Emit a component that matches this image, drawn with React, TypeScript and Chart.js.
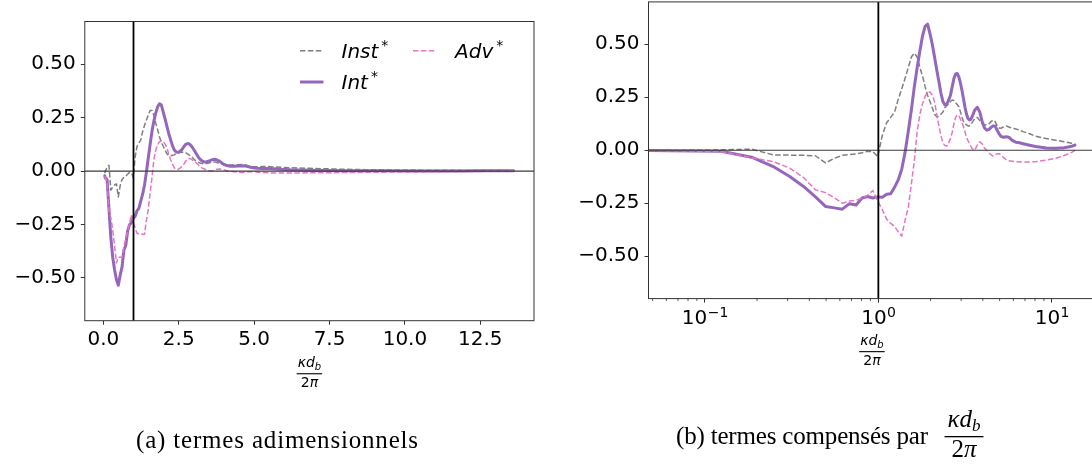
import { useEffect, useRef } from 'react';
import { Chart, registerables } from 'chart.js';

Chart.register(...registerables);

// ---------- data ----------
const X_VALUES = [
  0.048, 0.062, 0.124, 0.186, 0.248, 0.31, 0.372, 0.434, 0.496, 0.558, 0.62,
  0.682, 0.744, 0.806, 0.868, 0.93, 0.992, 1.054, 1.116, 1.178, 1.24,
  1.302, 1.364, 1.426, 1.488, 1.55, 1.612, 1.674, 1.736, 1.798, 1.86,
  1.922, 1.984, 2.046, 2.108, 2.17, 2.232, 2.294, 2.356, 2.418, 2.48,
  2.542, 2.604, 2.666, 2.728, 2.79, 2.852, 2.914, 2.976, 3.038, 3.1,
  3.162, 3.224, 3.286, 3.348, 3.41, 3.472, 3.596, 3.72, 3.844, 3.968,
  4.092, 4.216, 4.34, 4.464, 4.588, 4.712, 4.836, 4.96, 5.084, 5.27,
  5.456, 5.642, 5.89, 6.2, 6.51, 6.82, 7.44, 8.06, 8.68, 9.3,
  10.54, 11.78, 12.4, 13.02, 13.6,
];

// (a) dimensionless terms
const INST_VALUES = [
  -0.01, 0.0, 0.016, 0.027, -0.089, -0.074, -0.065, -0.06, -0.121, -0.068, -0.039,
  -0.029, -0.023, -0.015, -0.006, -0.007, -0.03, 0.066, 0.116, 0.132, 0.145,
  0.184, 0.213, 0.238, 0.262, 0.284, 0.284, 0.263, 0.225, 0.195, 0.161,
  0.135, 0.116, 0.098, 0.081, 0.073, 0.072, 0.074, 0.076, 0.083, 0.085,
  0.087, 0.088, 0.089, 0.086, 0.081, 0.075, 0.07, 0.06, 0.051, 0.044,
  0.04, 0.037, 0.035, 0.034, 0.035, 0.037, 0.042, 0.042, 0.036, 0.032,
  0.029, 0.028, 0.029, 0.03, 0.031, 0.029, 0.024, 0.021, 0.02, 0.021,
  0.021, 0.0195, 0.018, 0.016, 0.0146, 0.0129, 0.0105, 0.0082, 0.0069, 0.0059,
  0.0045, 0.0034, 0.003, 0.0025, 0.0021,
];
const INT_VALUES = [
  -0.022, -0.032, -0.04, -0.177, -0.31, -0.403, -0.462, -0.507, -0.534, -0.487, -0.448,
  -0.37, -0.347, -0.279, -0.251, -0.242, -0.222, -0.211, -0.186, -0.174, -0.141,
  -0.108, -0.066, -0.007, 0.06, 0.123, 0.186, 0.233, 0.271, 0.3, 0.315,
  0.31, 0.277, 0.244, 0.209, 0.175, 0.146, 0.118, 0.098, 0.089, 0.088,
  0.093, 0.1, 0.113, 0.125, 0.129, 0.127, 0.118, 0.106, 0.092, 0.077,
  0.063, 0.053, 0.046, 0.043, 0.043, 0.046, 0.053, 0.055, 0.047, 0.034,
  0.026, 0.0225, 0.0226, 0.024, 0.025, 0.024, 0.0196, 0.0157, 0.013, 0.0116,
  0.0117, 0.011, 0.0081, 0.0061, 0.0054, 0.0045, 0.0032, 0.0022, 0.0016, 0.0012,
  0.0009, 0.001, 0.0012, 0.0015, 0.0018,
];
const ADV_VALUES = [
  -0.022, -0.032, -0.048, -0.188, -0.218, -0.274, -0.35, -0.43, -0.403, -0.403, -0.403,
  -0.352, -0.317, -0.279, -0.244, -0.204, -0.242, -0.266, -0.291, -0.293, -0.29,
  -0.296, -0.297, -0.231, -0.181, -0.103, -0.031, 0.054, 0.098, 0.122, 0.137,
  0.142, 0.139, 0.127, 0.109, 0.078, 0.052, 0.031, 0.015, 0.009, 0.008,
  0.014, 0.021, 0.032, 0.046, 0.056, 0.059, 0.056, 0.049, 0.043, 0.036,
  0.027, 0.019, 0.014, 0.01, 0.006, 0.002, 0.0, 0.007, 0.01, 0.008,
  0.002, 0.0, -0.003, -0.005, -0.006, -0.005, -0.003, -0.003, -0.004, -0.007,
  -0.008, -0.009, -0.009, -0.009, -0.0084, -0.0081, -0.0074, -0.0067, -0.0058, -0.0049,
  -0.0036, -0.0021, -0.0015, -0.0008, 0.0,
];

// (b) terms compensated by kappa*d_b/(2*pi)
const INST_COMP = [
  0.0, 0.0, 0.002, 0.005, -0.022, -0.023, -0.024, -0.026, -0.06, -0.038, -0.024,
  -0.02, -0.017, -0.012, -0.005, -0.006, -0.03, 0.07, 0.13, 0.155, 0.18,
  0.24, 0.29, 0.34, 0.39, 0.44, 0.458, 0.44, 0.39, 0.35, 0.3,
  0.26, 0.23, 0.2, 0.17, 0.158, 0.16, 0.17, 0.18, 0.2, 0.21,
  0.22, 0.23, 0.237, 0.235, 0.225, 0.215, 0.205, 0.18, 0.155, 0.135,
  0.125, 0.12, 0.115, 0.115, 0.12, 0.13, 0.15, 0.155, 0.14, 0.125,
  0.12, 0.119, 0.125, 0.135, 0.143, 0.135, 0.115, 0.105, 0.104, 0.11,
  0.115, 0.11, 0.105, 0.1, 0.095, 0.088, 0.078, 0.066, 0.06, 0.055,
  0.047, 0.04, 0.037, 0.033, 0.028,
];
const INT_COMP = [
  -0.001, -0.002, -0.005, -0.033, -0.077, -0.125, -0.172, -0.22, -0.265, -0.272, -0.278,
  -0.252, -0.258, -0.225, -0.218, -0.225, -0.22, -0.222, -0.208, -0.205, -0.175,
  -0.14, -0.09, -0.01, 0.09, 0.19, 0.3, 0.39, 0.47, 0.54, 0.585,
  0.595, 0.55, 0.5, 0.44, 0.38, 0.325, 0.27, 0.23, 0.214, 0.218,
  0.236, 0.26, 0.3, 0.34, 0.36, 0.362, 0.345, 0.315, 0.28, 0.24,
  0.2, 0.17, 0.15, 0.143, 0.146, 0.158, 0.19, 0.203, 0.18, 0.135,
  0.105, 0.095, 0.098, 0.108, 0.115, 0.113, 0.095, 0.078, 0.066, 0.061,
  0.064, 0.062, 0.048, 0.038, 0.035, 0.031, 0.024, 0.018, 0.014, 0.011,
  0.009, 0.012, 0.015, 0.019, 0.024,
];
const ADV_COMP = [
  -0.001, -0.002, -0.006, -0.035, -0.054, -0.085, -0.13, -0.187, -0.2, -0.225, -0.25,
  -0.24, -0.236, -0.225, -0.212, -0.19, -0.24, -0.28, -0.325, -0.345, -0.36,
  -0.385, -0.405, -0.33, -0.27, -0.16, -0.05, 0.09, 0.17, 0.22, 0.255,
  0.272, 0.275, 0.26, 0.23, 0.17, 0.115, 0.07, 0.035, 0.022, 0.02,
  0.035, 0.055, 0.085, 0.125, 0.155, 0.167, 0.163, 0.145, 0.13, 0.11,
  0.085, 0.06, 0.045, 0.033, 0.02, 0.008, 0.0, 0.025, 0.04, 0.03,
  0.01, 0.0, -0.012, -0.022, -0.027, -0.022, -0.016, -0.016, -0.022, -0.035,
  -0.045, -0.05, -0.052, -0.054, -0.055, -0.055, -0.055, -0.054, -0.05, -0.046,
  -0.038, -0.025, -0.018, -0.01, 0.0,
];

const SERIES_NAMES = ['Inst', 'Int', 'Adv'];
const LIN_X_TICKS = [0, 2.5, 5, 7.5, 10, 12.5];
const LOG_X_TICKS = [0.1, 1, 10];
const LOG_MINOR_TICKS = [
  0.05, 0.06, 0.07, 0.08, 0.09, 0.2, 0.3, 0.4, 0.5, 0.6, 0.7, 0.8, 0.9,
  2, 3, 4, 5, 6, 7, 8, 9,
];
const Y_TICKS = [-0.5, -0.25, 0, 0.25, 0.5];
const REF_X = 1;
const REF_Y = 0;
const CAPTION_A = '(a) termes adimensionnels';
const CAPTION_B = '(b) termes compensés par';

// ---------- style ----------
const FONT = '"DejaVu Sans", sans-serif';
const SERIF = '"Liberation Serif", "DejaVu Serif", serif';
const GREY = '#7f7f7f';
const PURPLE = '#9467bd';
const PINK = '#e377c2';
const SPINE = '#333333';
const DASH = [5.5, 2.4];

Chart.defaults.font.family = FONT;

const fmtY = (v: number) => {
  const s = Math.abs(v).toFixed(2);
  return v < -1e-9 ? '\u2212' + s : s;
};

function makeDatasets(ins: number[], itn: number[], adv: number[]) {
  const pts = (ys: number[]) => X_VALUES.map((x, i) => ({ x, y: ys[i] }));
  return [
    {
      label: SERIES_NAMES[0], data: pts(ins), borderColor: GREY, borderWidth: 1.5,
      borderDash: DASH, borderCapStyle: 'butt', borderJoinStyle: 'round', order: 3,
    },
    {
      label: SERIES_NAMES[1], data: pts(itn), borderColor: PURPLE, borderWidth: 3,
      borderCapStyle: 'round', borderJoinStyle: 'round', order: 2,
    },
    {
      label: SERIES_NAMES[2], data: pts(adv), borderColor: PINK, borderWidth: 1.5,
      borderDash: DASH, borderCapStyle: 'butt', borderJoinStyle: 'round', order: 1,
    },
  ];
}

function drawFitted(ctx: CanvasRenderingContext2D, text: string, x: number, y: number, font: string, target: number) {
  ctx.font = font;
  (ctx as any).letterSpacing = '0px';
  const w = ctx.measureText(text).width;
  const sp = (target - w) / Math.max(1, text.length - 1);
  (ctx as any).letterSpacing = sp.toFixed(2) + 'px';
  ctx.fillText(text, x, y);
  (ctx as any).letterSpacing = '0px';
}

function drawFraction(ctx: CanvasRenderingContext2D, cx: number, bottom: number) {
  const f = 14;
  const it = `italic ${f}px ${FONT}`;
  const sub = `italic ${Math.round(f * 0.7)}px ${FONT}`;
  const up = `${f}px ${FONT}`;
  ctx.save();
  ctx.fillStyle = '#000';
  ctx.textBaseline = 'alphabetic';
  ctx.textAlign = 'left';
  ctx.font = it; const w1 = ctx.measureText('κd').width;
  ctx.font = sub; const w2 = ctx.measureText('b').width;
  const nw = w1 + w2;
  let x = cx - nw / 2;
  const nb = bottom + 46;
  ctx.font = it; ctx.fillText('κd', x, nb);
  ctx.font = sub; ctx.fillText('b', x + w1, nb + 3);
  ctx.fillRect(cx - nw / 2 - 1, bottom + 52.5, nw + 2, 1.1);
  ctx.font = up; const w3 = ctx.measureText('2').width;
  ctx.font = it; const w4 = ctx.measureText('π').width;
  x = cx - (w3 + w4) / 2;
  const db = bottom + 66;
  ctx.font = up; ctx.fillText('2', x, db);
  ctx.font = it; ctx.fillText('π', x + w3, db);
  ctx.restore();
}

function refLinesPlugin(id: string) {
  return {
    id,
    afterDatasetsDraw(chart: any) {
      const { ctx, chartArea: a, scales } = chart;
      ctx.save();
      const y0 = scales.y.getPixelForValue(REF_Y);
      ctx.strokeStyle = '#3a3a3a';
      ctx.lineWidth = 1.1;
      ctx.beginPath(); ctx.moveTo(a.left, y0); ctx.lineTo(a.right, y0); ctx.stroke();
      const x1 = scales.x.getPixelForValue(REF_X);
      ctx.strokeStyle = '#000';
      ctx.lineWidth = 1.8;
      ctx.beginPath(); ctx.moveTo(x1, a.top); ctx.lineTo(x1, a.bottom); ctx.stroke();
      ctx.strokeStyle = SPINE;
      ctx.lineWidth = 1;
      ctx.strokeRect(a.left, a.top, a.right - a.left, a.bottom - a.top);
      ctx.restore();
    },
  };
}

const leftDecor = {
  id: 'leftDecor',
  afterDraw(chart: any) {
    const { ctx, chartArea: a } = chart;
    ctx.save();
    const rows = [
      { name: SERIES_NAMES[0], color: GREY, dash: DASH, lw: 1.5, lx: 300, tx: 341.5, y: 50.7, base: 57.5 },
      { name: SERIES_NAMES[2], color: PINK, dash: DASH, lw: 1.5, lx: 413, tx: 455, y: 50.7, base: 57.5 },
      { name: SERIES_NAMES[1], color: PURPLE, dash: [], lw: 3, lx: 300, tx: 341.5, y: 82, base: 89 },
    ];
    ctx.textBaseline = 'alphabetic';
    ctx.textAlign = 'left';
    ctx.fillStyle = '#000';
    for (const r of rows) {
      ctx.strokeStyle = r.color;
      ctx.lineWidth = r.lw;
      ctx.setLineDash(r.dash);
      ctx.lineCap = 'butt';
      ctx.beginPath(); ctx.moveTo(r.lx, r.y); ctx.lineTo(r.lx + 23.5, r.y); ctx.stroke();
      ctx.setLineDash([]);
      ctx.font = `italic 20px ${FONT}`;
      ctx.fillText(r.name, r.tx, r.base);
      const w = ctx.measureText(r.name).width;
      ctx.font = `14px ${FONT}`;
      ctx.fillText('*', r.tx + w + 3, r.base - 8);
    }
    drawFraction(ctx, (a.left + a.right) / 2, a.bottom);
    ctx.fillStyle = '#000';
    drawFitted(ctx, CAPTION_A, 136, 448, `25px ${SERIF}`, 282);
    ctx.restore();
  },
};

const rightDecor = {
  id: 'rightDecor',
  afterDraw(chart: any) {
    const { ctx, chartArea: a, scales } = chart;
    const xs = scales.x;
    ctx.save();
    ctx.strokeStyle = SPINE;
    ctx.lineWidth = 0.8;
    for (const v of LOG_MINOR_TICKS) {
      if (v < xs.min || v > xs.max) continue;
      const px = xs.getPixelForValue(v);
      ctx.beginPath(); ctx.moveTo(px, a.bottom); ctx.lineTo(px, a.bottom + 2.5); ctx.stroke();
    }
    ctx.fillStyle = '#000';
    ctx.textBaseline = 'alphabetic';
    ctx.textAlign = 'left';
    for (const v of LOG_X_TICKS) {
      const px = xs.getPixelForValue(v);
      const e = Math.round(Math.log10(v));
      const sup = e < 0 ? '\u2212' + Math.abs(e) : String(e);
      ctx.font = `20px ${FONT}`;
      const w1 = ctx.measureText('10').width;
      ctx.font = `14px ${FONT}`;
      const w2 = ctx.measureText(sup).width;
      const x0 = px - (w1 + w2) / 2;
      const base = a.bottom + 25.7;
      ctx.font = `20px ${FONT}`;
      ctx.fillText('10', x0, base);
      ctx.font = `14px ${FONT}`;
      ctx.fillText(sup, x0 + w1 + 0.5, base - 7);
    }
    drawFraction(ctx, (a.left + a.right) / 2, a.bottom);
    // caption
    ctx.fillStyle = '#000';
    drawFitted(ctx, CAPTION_B, 130, 444, `25px ${SERIF}`, 252);
    const cx = 418;
    ctx.font = `italic 25px ${SERIF}`;
    const wk = ctx.measureText('κd').width;
    ctx.font = `italic 17px ${SERIF}`;
    const wb = ctx.measureText('b').width;
    const nw = wk + wb;
    ctx.font = `italic 25px ${SERIF}`;
    ctx.fillText('κd', cx - nw / 2, 427);
    ctx.font = `italic 17px ${SERIF}`;
    ctx.fillText('b', cx - nw / 2 + wk, 431);
    ctx.fillRect(cx - nw / 2 - 3, 436, nw + 6, 1.3);
    ctx.font = `25px ${SERIF}`;
    const w2 = ctx.measureText('2').width;
    ctx.font = `italic 25px ${SERIF}`;
    const wp = ctx.measureText('π').width;
    const dx = cx - (w2 + wp) / 2;
    ctx.font = `25px ${SERIF}`;
    ctx.fillText('2', dx, 457);
    ctx.font = `italic 25px ${SERIF}`;
    ctx.fillText('π', dx + w2, 457);
    ctx.restore();
  },
};

function yScale() {
  return {
    type: 'linear',
    min: -0.7,
    max: 0.7,
    afterBuildTicks: (s: any) => { s.ticks = Y_TICKS.map((v) => ({ value: v })); },
    afterFit: (s: any) => { s.width = 80; s.paddingTop = 0; s.paddingBottom = 0; },
    ticks: { callback: (v: any) => fmtY(Number(v)), font: { size: 20, family: FONT }, color: '#000', padding: 5 },
    grid: { display: true, drawOnChartArea: false, drawTicks: true, tickLength: 4, tickColor: SPINE, tickWidth: 1 },
    border: { display: false },
  };
}

export default function App() {
  const leftRef = useRef<HTMLCanvasElement | null>(null);
  const rightRef = useRef<HTMLCanvasElement | null>(null);

  useEffect(() => {
    const common = {
      animation: false,
      responsive: false,
      devicePixelRatio: 1,
      plugins: { legend: { display: false }, tooltip: { enabled: false } },
      elements: { point: { radius: 0 }, line: { tension: 0, fill: false } },
    };
    const left = new Chart(leftRef.current as HTMLCanvasElement, {
      type: 'line',
      data: { datasets: makeDatasets(INST_VALUES, INT_VALUES, ADV_VALUES) as any },
      options: {
        ...common,
        layout: { padding: { left: 4.8, right: 12, top: 21.5, bottom: 105.3 } },
        scales: {
          x: {
            type: 'linear',
            min: -0.615,
            max: 14.28,
            afterBuildTicks: (s: any) => { s.ticks = LIN_X_TICKS.map((v) => ({ value: v })); },
            afterFit: (s: any) => { s.height = 40; s.paddingLeft = 0; s.paddingRight = 0; },
            ticks: { callback: (v: any) => Number(v).toFixed(1), font: { size: 20, family: FONT }, color: '#000', padding: 3, maxRotation: 0 },
            grid: { display: true, drawOnChartArea: false, drawTicks: true, tickLength: 4, tickColor: SPINE, tickWidth: 1 },
            border: { display: false },
          },
          y: yScale(),
        },
      } as any,
      plugins: [refLinesPlugin('leftRef'), leftDecor],
    });
    const right = new Chart(rightRef.current as HTMLCanvasElement, {
      type: 'line',
      data: { datasets: makeDatasets(INST_COMP, INT_COMP, ADV_COMP) as any },
      options: {
        ...common,
        layout: { padding: { left: 22.5, right: 10.7, top: 1.9, bottom: 127.4 } },
        scales: {
          x: {
            type: 'logarithmic',
            min: 0.04735,
            max: 17.8,
            afterBuildTicks: (s: any) => { s.ticks = LOG_X_TICKS.map((v) => ({ value: v })); },
            afterFit: (s: any) => { s.height = 40; s.paddingLeft = 0; s.paddingRight = 0; },
            ticks: { display: false },
            grid: { display: true, drawOnChartArea: false, drawTicks: true, tickLength: 4, tickColor: SPINE, tickWidth: 1 },
            border: { display: false },
          },
          y: yScale(),
        },
      } as any,
      plugins: [refLinesPlugin('rightRef'), rightDecor],
    });
    return () => { left.destroy(); right.destroy(); };
  }, []);

  return (
    <div style={{ position: 'absolute', left: 0, top: 0, width: 1092, height: 466, overflow: 'hidden', background: '#fff' }}>
      <canvas ref={leftRef} width={546} height={466} style={{ position: 'absolute', left: 0, top: 0 }} />
      <canvas ref={rightRef} width={560} height={466} style={{ position: 'absolute', left: 546, top: 0 }} />
    </div>
  );
}
